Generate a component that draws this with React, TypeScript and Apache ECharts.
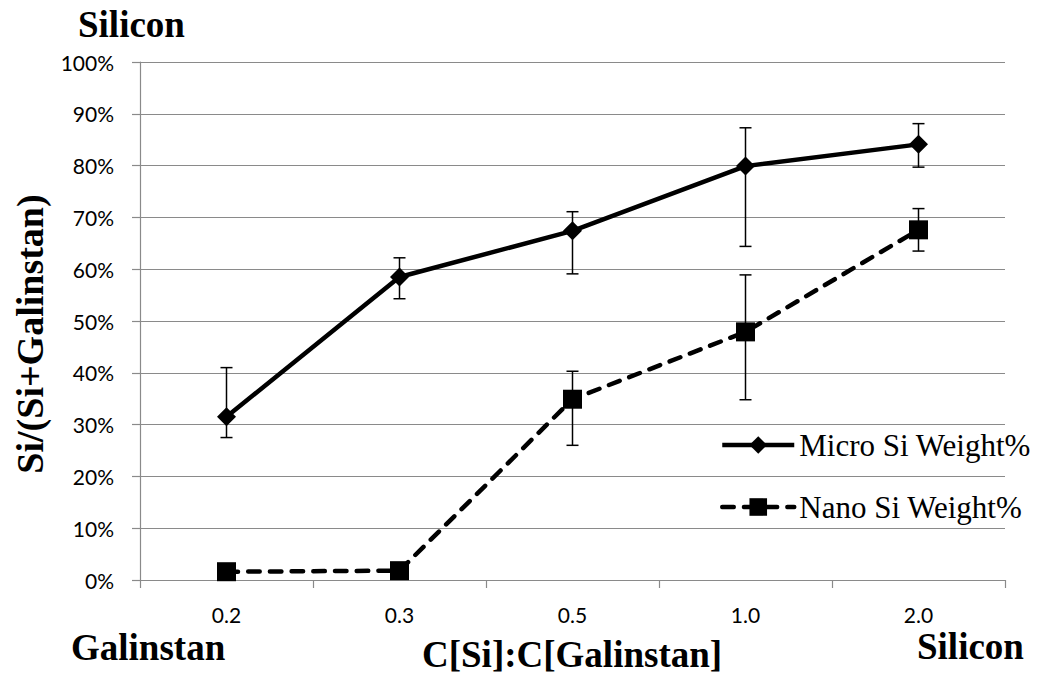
import React, { useEffect, useRef } from "react";
import * as echarts from "echarts";

// Concentration ratio categories (x axis)
const categories = ["0.2", "0.3", "0.5", "1.0", "2.0"];

// Micro silicon weight percentage with error bounds
const microValues = [31.5, 58.5, 67.4, 79.9, 84.1];
const microUpper = [41.0, 62.2, 71.1, 87.3, 88.1];
const microLower = [27.5, 54.3, 59.1, 64.4, 79.7];

// Nano silicon weight percentage with error bounds (none shown for the first two)
const nanoValues = [1.6, 1.8, 34.9, 47.9, 67.6];
const nanoUpper: (number | null)[] = [null, null, 40.3, 58.9, 71.7];
const nanoLower: (number | null)[] = [null, null, 26.0, 34.8, 63.5];

// Y axis ticks (percent)
const yMin = 0;
const yMax = 100;
const yStep = 10;

const MICRO = "Micro Si Weight%";
const NANO = "Nano Si Weight%";

const serif = "'Liberation Serif', 'Times New Roman', serif";
const sans = "Lato, 'Open Sans', sans-serif";
const gridGray = "#8a8a8a";

function errorData(lower: (number | null)[], upper: (number | null)[]) {
  const out: number[][] = [];
  categories.forEach((_, i) => {
    const lo = lower[i];
    const hi = upper[i];
    if (lo != null && hi != null) out.push([i, lo, hi]);
  });
  return out;
}

function renderErrorBar(params: any, api: any) {
  const x = api.value(0);
  const lo = api.value(1);
  const hi = api.value(2);
  const top = api.coord([x, hi]);
  const bot = api.coord([x, lo]);
  const hw = 6;
  const style = { stroke: "#000", lineWidth: 1.5 };
  return {
    type: "group",
    children: [
      { type: "line", shape: { x1: top[0], y1: top[1], x2: bot[0], y2: bot[1] }, style },
      { type: "line", shape: { x1: top[0] - hw, y1: top[1], x2: top[0] + hw, y2: top[1] }, style },
      { type: "line", shape: { x1: bot[0] - hw, y1: bot[1], x2: bot[0] + hw, y2: bot[1] }, style },
    ],
  };
}

export default function App() {
  const ref = useRef<HTMLDivElement>(null);

  useEffect(() => {
    if (!ref.current) return;
    const chart = echarts.init(ref.current, undefined, { renderer: "svg" });

    const legendBase = {
      left: 720,
      orient: "horizontal",
      itemWidth: 72,
      itemHeight: 22,
      padding: 0,
      selectedMode: false,
      lineStyle: { width: 4.5 },
      textStyle: { fontFamily: serif, fontSize: 31, color: "#000" },
    };

    chart.setOption({
      animation: false,
      backgroundColor: "#fff",
      grid: { left: 140, right: 39, top: 62, bottom: 103, containLabel: false },
      xAxis: {
        type: "category",
        data: categories,
        boundaryGap: true,
        axisLine: { show: true, lineStyle: { color: gridGray, width: 1.2 } },
        axisTick: { show: true, length: 8, alignWithLabel: false, interval: 0, lineStyle: { color: gridGray, width: 1.2 } },
        axisLabel: { fontFamily: sans, fontSize: 21, color: "#000", margin: 24, interval: 0 },
        splitLine: { show: false },
      },
      yAxis: {
        type: "value",
        min: yMin,
        max: yMax,
        interval: yStep,
        axisLine: { show: true, lineStyle: { color: gridGray, width: 1.2 } },
        axisTick: { show: true, length: 8, lineStyle: { color: gridGray, width: 1.2 } },
        axisLabel: { fontFamily: sans, fontSize: 21, color: "#000", margin: 26, formatter: "{value}%" },
        splitLine: { show: true, lineStyle: { color: gridGray, width: 1.2 } },
      },
      legend: [
        { ...legendBase, top: 429.5, data: [MICRO] },
        { ...legendBase, top: 491.5, data: [NANO] },
      ],
      series: [
        {
          name: MICRO,
          type: "line",
          data: microValues,
          symbol: "diamond",
          symbolSize: 19,
          itemStyle: { color: "#000" },
          lineStyle: { color: "#000", width: 4.5, join: "round" },
          z: 3,
        },
        {
          name: NANO,
          type: "line",
          data: nanoValues,
          symbol: "rect",
          symbolSize: 19,
          itemStyle: { color: "#000" },
          lineStyle: { color: "#000", width: 4.5, type: [11.5, 10.2], cap: "round", join: "round" },
          z: 3,
        },
        {
          name: "microErr",
          type: "custom",
          renderItem: renderErrorBar,
          data: errorData(microLower, microUpper),
          encode: { x: 0, y: [1, 2] },
          z: 4,
        },
        {
          name: "nanoErr",
          type: "custom",
          renderItem: renderErrorBar,
          data: errorData(nanoLower, nanoUpper),
          encode: { x: 0, y: [1, 2] },
          z: 4,
        },
      ],
      graphic: [
        {
          type: "text",
          left: 78,
          top: 6,
          style: { text: "Silicon", font: `bold 37px ${serif}`, fill: "#000" },
        },
        {
          type: "text",
          left: 71,
          top: 629,
          style: { text: "Galinstan", font: `bold 37px ${serif}`, fill: "#000" },
        },
        {
          type: "text",
          left: 422,
          top: 636,
          style: { text: "C[Si]:C[Galinstan]", font: `bold 37px ${serif}`, fill: "#000" },
        },
        {
          type: "text",
          left: 917,
          top: 628,
          style: { text: "Silicon", font: `bold 37px ${serif}`, fill: "#000" },
        },
        {
          type: "text",
          x: 30,
          y: 334,
          rotation: Math.PI / 2,
          style: {
            text: "Si/(Si+Galinstan)",
            font: `bold 38px ${serif}`,
            fill: "#000",
            align: "center",
            verticalAlign: "middle",
          },
        },
      ],
    });

    return () => chart.dispose();
  }, []);

  return (
    <div
      ref={ref}
      style={{ position: "fixed", left: 0, top: 0, width: 1044, height: 683, background: "#fff" }}
    />
  );
}
